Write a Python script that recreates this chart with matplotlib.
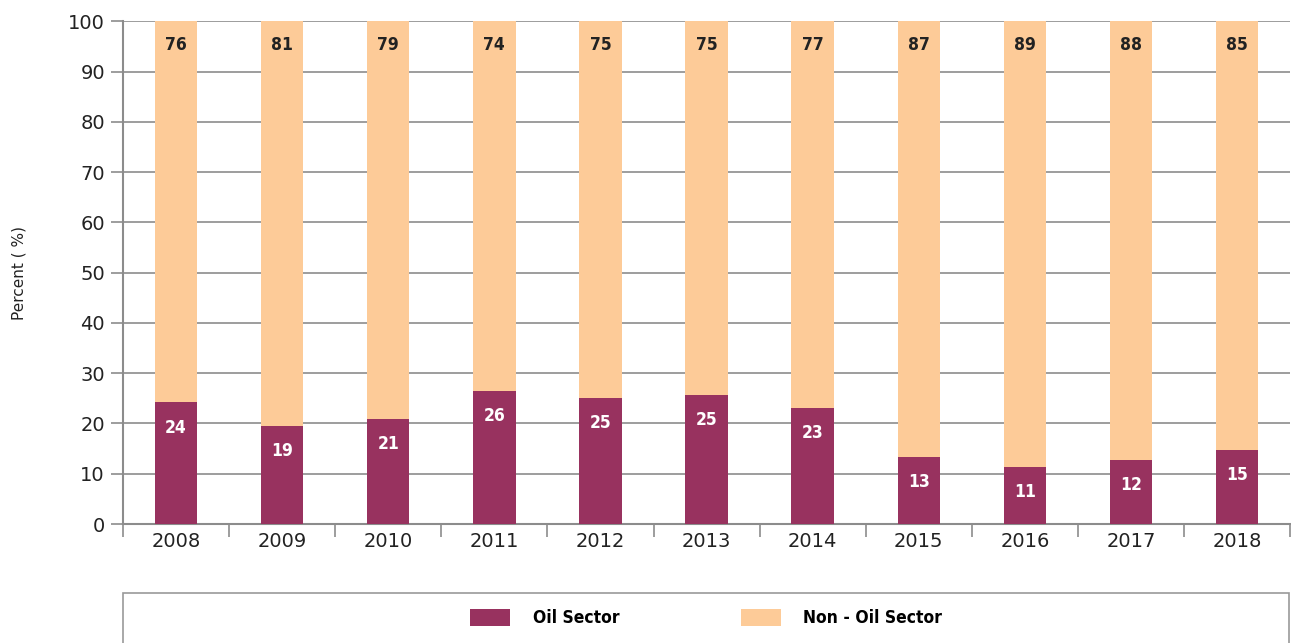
import matplotlib.pyplot as plt
from matplotlib.patches import Rectangle
import numpy as np

years = ["2008", "2009", "2010", "2011", "2012", "2013", "2014", "2015", "2016", "2017", "2018"]
oil_share = [24.2, 19.5, 20.9, 26.4, 25.0, 25.6, 23.1, 13.3, 11.3, 12.7, 14.7]
oil_labels = [24, 19, 21, 26, 25, 25, 23, 13, 11, 12, 15]
non_oil_labels = [76, 81, 79, 74, 75, 75, 77, 87, 89, 88, 85]

OIL = "#98325F"
NON_OIL = "#FDCB98"
GRID = "#8C8C8C"

plt.rcParams["font.family"] = "DejaVu Sans"

fig = plt.figure(figsize=(12.91, 6.43), dpi=100)
ax = fig.add_axes([0.0953, 0.185, 0.904, 0.782])

x = np.arange(len(years))
oil = np.array(oil_share)
non_oil = 100 - oil

ax.bar(x, oil, width=0.4, color=OIL, zorder=3, label="Oil Sector")
ax.bar(x, non_oil, bottom=oil, width=0.4, color=NON_OIL, zorder=3, label="Non - Oil Sector")

for xi, v, lab in zip(x, oil, oil_labels):
    ax.text(xi, v - 5, str(lab), ha="center", va="center", color="white",
            fontsize=12.5, fontweight="bold", fontstretch="condensed", zorder=4)
for xi, lab in zip(x, non_oil_labels):
    ax.text(xi, 95.3, str(lab), ha="center", va="center", color="#222222",
            fontsize=12.5, fontweight="bold", fontstretch="condensed", zorder=4)

ax.set_xlim(-0.5, len(years) - 0.5)
ax.set_ylim(0, 100)
ax.set_yticks(range(0, 101, 10))
ax.yaxis.grid(True, color=GRID, linewidth=1.2, zorder=0)
ax.set_xticks(x)
ax.set_xticklabels(years)
ax.set_xticks(np.arange(-0.5, len(years), 1), minor=True)
ax.tick_params(axis="x", which="major", length=0, pad=6, labelsize=14, colors="#222222")
ax.tick_params(axis="x", which="minor", length=9, width=1.2, color=GRID, direction="out")
ax.tick_params(axis="y", length=9, width=1.2, color=GRID, labelsize=14, labelcolor="#222222", pad=4)

for s in ["top", "right"]:
    ax.spines[s].set_visible(False)
for s in ["left", "bottom"]:
    ax.spines[s].set_color(GRID)
    ax.spines[s].set_linewidth(1.5)

ax.set_ylabel("Percent ( %)", fontsize=11, color="#222222", labelpad=30)
ax.yaxis.set_label_coords(-0.083, 0.5)

# legend frame
fig.patches.append(Rectangle((123 / 1291, -0.02), 1166 / 1291, 50 / 643 + 0.02,
                             transform=fig.transFigure, fill=False,
                             edgecolor="#999999", linewidth=1.2))
handles, labels = ax.get_legend_handles_labels()
fig.legend(handles, labels, loc="center", bbox_to_anchor=(0.547, 0.039), ncol=2,
           frameon=False, handlelength=2.3, handleheight=1.2, columnspacing=7,
           handletextpad=1.3, prop={"weight": "bold", "size": 12.5, "stretch": "condensed"})

fig.savefig("out.png", dpi=100)
